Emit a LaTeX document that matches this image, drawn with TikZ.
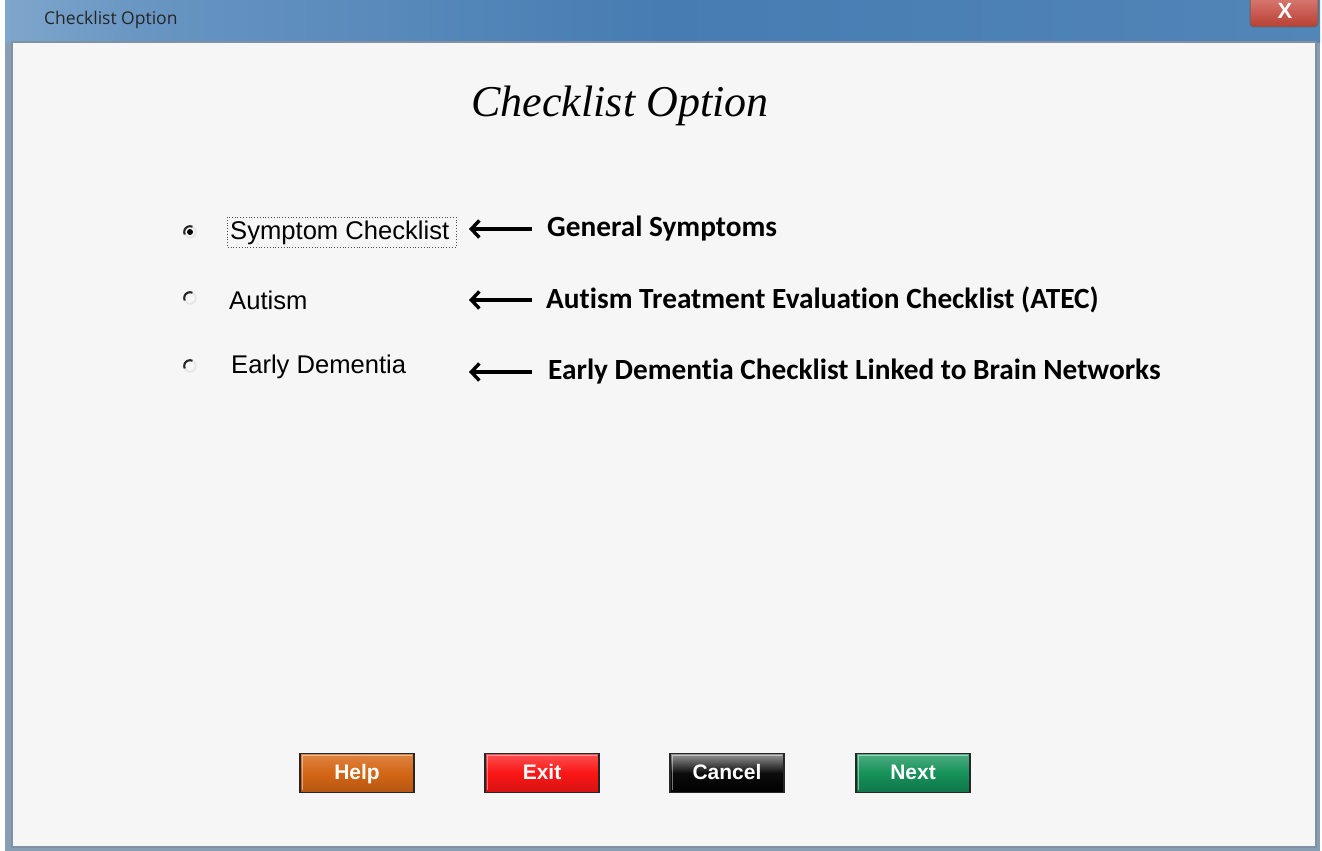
\documentclass[tikz,border=0pt]{standalone}
\usepackage{fontspec}
\setmainfont{Liberation Sans}
\newfontfamily\carl[Ligatures=NoCommon]{Carlito}
\newfontfamily\osans{Open Sans}
\newfontfamily\serifit{Liberation Serif}
\usetikzlibrary{arrows.meta}
\definecolor{clientbg}{RGB}{246,246,246}
\definecolor{framegray}{RGB}{128,146,162}
\definecolor{tbA}{RGB}{186,210,232}
\definecolor{tbB}{RGB}{70,124,178}
\definecolor{tbC}{RGB}{150,186,218}
\definecolor{helpc}{RGB}{212,102,22}
\definecolor{exitc}{RGB}{252,22,22}
\definecolor{cancelc}{RGB}{12,12,12}
\definecolor{nextc}{RGB}{22,146,90}
\definecolor{closec}{RGB}{204,70,58}
\pgfdeclarehorizontalshading{tbarshade}{100bp}{color(0bp)=(tbA); color(12bp)=(tbA); color(30bp)=(tbB!70!tbA); color(50bp)=(tbB); color(75bp)=(tbB!85!tbC); color(100bp)=(tbC)}
\tikzset{
  optlabel/.style={anchor=west, inner sep=0pt, font=\fontsize{25.6}{28}\selectfont},
  desclabel/.style={anchor=west, inner sep=0pt, font=\carl\bfseries\fontsize{29.3}{32}\selectfont},
  arr/.style={line width=3.4pt, -{Straight Barb[length=8pt,width=17pt,line width=3.4pt]}},
  btn/.style={draw=black!85, line width=1.4pt, minimum width=114pt, minimum height=39pt,
    inner sep=0pt, text=white, text height=15pt, text depth=2pt, font=\bfseries\fontsize{21}{24}\selectfont},
  bevel/.style={line width=1.2pt, opacity=0.45},
  radio/.style={circle, minimum size=12pt, inner sep=0pt},
}
\begin{document}
\begin{tikzpicture}[x=1pt,y=-1pt]
\useasboundingbox (0,0) rectangle (1322,851);
\fill[white] (0,0) rectangle (1322,851);
% window frame
\fill[framegray!70!tbC] (5,0) rectangle (1320,851);
\shade[shading=tbarshade] (5,0) rectangle (1320,43);
\node[anchor=west, inner sep=0pt, font=\osans\fontsize{17.5}{20}\selectfont, text=black!85] (wtitle) at (44,20) {Checklist Option};
% close button
\node[draw=black!60, line width=1pt, rounded corners=4pt, top color=closec!70!white, bottom color=closec!90!black,
  minimum width=68pt, minimum height=32pt, inner sep=0pt] (close) at (1284,11) {};
\node[text=white, font=\bfseries\fontsize{22}{24}\selectfont, inner sep=0pt] (closex) at (1285,11) {X};
% client area
\fill[clientbg] (12,42) rectangle (1316,847);
\draw[framegray, line width=1.2pt] (12,42) rectangle (1316,847);
% heading
\node[font=\serifit\itshape\fontsize{44}{48}\selectfont, inner sep=0pt] (head) at (620,106) {Checklist Option};
% radio buttons
\node[radio] (r1) at (190,232) {};
\node[radio] (r2) at (190,298) {};
\node[radio] (r3) at (190,366) {};
\foreach \r in {r1,r2,r3}{
  \draw[black!10, line width=1.6pt] ([shift={(295:5.8)}]\r.center) arc[start angle=295, end angle=515, radius=5.8];
  \draw[black!85, line width=2.1pt] ([shift={(155:5.8)}]\r.center) arc[start angle=155, end angle=295, radius=5.8];
}
\fill[black] (r1.center) circle[radius=3];
% option labels
\node[optlabel] (o1) at (230,233) {Symptom Checklist};
\node[optlabel] (o2) at (229,300) {Autism};
\node[optlabel] (o3) at (231,367) {Early Dementia};
\draw[black!70, dotted, line width=0.8pt] (227,217) rectangle (456,247);
% descriptions
\node[desclabel] (d1) at (547,229) {General Symptoms};
\node[desclabel] (d2) at (546,300) {Autism Treatment Evaluation Checklist (ATEC)};
\node[desclabel] (d3) at (548,372) {Early Dementia Checklist Linked to Brain Networks};
\coordinate (t1) at (469,229);
\coordinate (t2) at (469,300);
\coordinate (t3) at (469,372);
\draw[arr] ([xshift=-15pt]d1.west) -- (t1);
\draw[arr] ([xshift=-14pt]d2.west) -- (t2);
\draw[arr] ([xshift=-16pt]d3.west) -- (t3);
% buttons
\node[btn, top color=helpc!80!white, bottom color=helpc!85!black, middle color=helpc] (help) at (357,773) {Help};
\node[btn, top color=exitc!75!white, bottom color=exitc!85!black, middle color=exitc] (exit) at (542,773) {Exit};
\node[btn, top color=black!40, bottom color=black, middle color=cancelc] (cancel) at (727,773) {Cancel};
\node[btn, top color=nextc!75!white, bottom color=nextc!80!black, middle color=nextc] (next) at (913,773) {Next};
\foreach \b in {help,exit,cancel,next}{
  \draw[bevel, white] ([shift={(3,-3)}]\b.south west) -- ([shift={(3,3)}]\b.north west) -- ([shift={(-3,3)}]\b.north east);
}
\end{tikzpicture}
\end{document}
